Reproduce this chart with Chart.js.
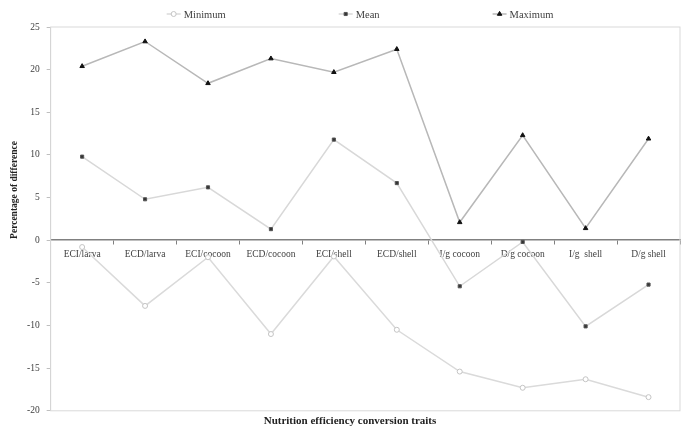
<!DOCTYPE html>
<html>
<head>
<meta charset="utf-8">
<script src="https://cdn.jsdelivr.net/npm/chart.js@4.4.1/dist/chart.umd.min.js"></script>
<style>
  body { margin: 0; background: #fff; }
  #wrap { width: 692px; height: 436px; }
</style>
</head>
<body>
<div id="wrap"><canvas id="chart"></canvas></div>
<script>
const traits = ['ECI/larva', 'ECD/larva', 'ECI/cocoon', 'ECD/cocoon', 'ECI/shell', 'ECD/shell', 'I/g cocoon', 'D/g cocoon', 'I/g  shell', 'D/g shell']
const minimum = [-0.8, -7.7, -2.0, -11.0, -1.9, -10.5, -15.4, -17.3, -16.3, -18.4]
const mean = [9.8, 4.8, 6.2, 1.3, 11.8, 6.7, -5.4, -0.2, -10.1, -5.2]
const maximum = [20.4, 23.3, 18.4, 21.3, 19.7, 22.4, 2.1, 12.3, 1.4, 11.9]
const yMin = -20
const yMax = 25
const yStep = 5

const serif = "'Liberation Serif', 'Times New Roman', serif"
const textColor = '#404040'

// plot frame + y title drawn by hand (Excel style)
const framePlugin = {
    id: 'frame',
    beforeDatasetsDraw(chart) {
        const { ctx, chartArea: a } = chart
        ctx.save()
        ctx.strokeStyle = '#d9d9d9'
        ctx.lineWidth = 1
        ctx.strokeRect(a.left, a.top, a.right - a.left, a.bottom - a.top)
        ctx.restore()
    },
    afterDraw(chart) {
        const { ctx } = chart
        ctx.save()
        ctx.translate(15, 190)
        ctx.rotate(-Math.PI / 2)
        ctx.font = 'bold 9.5px ' + serif
        ctx.fillStyle = '#222'
        ctx.textAlign = 'center'
        ctx.textBaseline = 'middle'
        ctx.fillText('Percentage of difference', 0, 0)
        ctx.restore()
    }
}

// legend with line + marker symbols
const legendPlugin = {
    id: 'excelLegend',
    afterDraw(chart) {
        const { ctx } = chart
        const y = 14
        const symW = 14
        const gap = 113
        ctx.save()
        ctx.font = '10.5px ' + serif
        const items = chart.data.datasets.map(ds => ({ ds, w: symW + 3 + ctx.measureText(ds.label).width }))
        const total = items.reduce((s, it) => s + it.w, 0) + gap * (items.length - 1)
        let x = 360 - total / 2
        for (const it of items) {
            const ds = it.ds
            ctx.strokeStyle = ds.borderColor
            ctx.lineWidth = 1.5
            ctx.beginPath()
            ctx.moveTo(x, y)
            ctx.lineTo(x + symW, y)
            ctx.stroke()
            ctx.fillStyle = ds.pointBackgroundColor
            ctx.strokeStyle = ds.pointBorderColor
            ctx.lineWidth = 1
            Chart.helpers.drawPoint(ctx, { pointStyle: ds.pointStyle, radius: ds.pointRadius, borderWidth: 1, rotation: 0 }, x + symW / 2, y)
            ctx.fillStyle = textColor
            ctx.textBaseline = 'middle'
            ctx.textAlign = 'left'
            ctx.fillText(ds.label, x + symW + 3, y + 1)
            x += it.w + gap
        }
        ctx.restore()
    }
}

new Chart(document.getElementById('chart'), {
    type: 'line',
    data: {
        labels: traits,
        datasets: [
            {
                label: 'Minimum',
                data: minimum,
                borderColor: '#dadada',
                borderWidth: 1.5,
                pointStyle: 'circle',
                pointRadius: 2.5,
                pointBackgroundColor: '#ffffff',
                pointBorderColor: '#c4c4c4',
                pointBorderWidth: 1
            },
            {
                label: 'Mean',
                data: mean,
                borderColor: '#d8d8d8',
                borderWidth: 1.5,
                pointStyle: 'rect',
                pointRadius: 2.2,
                pointBackgroundColor: '#333333',
                pointBorderColor: '#555555',
                pointBorderWidth: 1
            },
            {
                label: 'Maximum',
                data: maximum,
                borderColor: '#b8b8b8',
                borderWidth: 1.5,
                pointStyle: 'triangle',
                pointRadius: 2.6,
                pointBackgroundColor: '#111111',
                pointBorderColor: '#111111',
                pointBorderWidth: 1
            }
        ]
    },
    options: {
        responsive: true,
        maintainAspectRatio: false,
        animation: false,
        layout: {
            padding: { left: 20, right: 12, top: 27, bottom: 0 }
        },
        plugins: {
            legend: { display: false },
            tooltip: { enabled: false },
            title: {
                display: true,
                position: 'bottom',
                text: 'Nutrition efficiency conversion traits',
                color: '#222',
                font: { family: serif, size: 11, weight: 'bold' },
                padding: { top: 4, bottom: 8 }
            }
        },
        scales: {
            x: {
                position: { y: 0 },
                offset: true,
                border: { color: '#808080', width: 1.5 },
                grid: {
                    display: true,
                    drawOnChartArea: false,
                    offset: true,
                    tickLength: 4,
                    color: '#808080'
                },
                ticks: {
                    color: textColor,
                    font: { family: serif, size: 9.5 },
                    padding: 5,
                    maxRotation: 0,
                    autoSkip: false
                }
            },
            y: {
                min: yMin,
                max: yMax,
                border: { color: '#bfbfbf', width: 1 },
                grid: {
                    display: true,
                    drawOnChartArea: false,
                    tickLength: 4,
                    color: '#bfbfbf'
                },
                ticks: {
                    stepSize: yStep,
                    color: textColor,
                    font: { family: serif, size: 9.5 },
                    padding: 7
                }
            }
        }
    },
    plugins: [framePlugin, legendPlugin]
})
</script>
</body>
</html>
